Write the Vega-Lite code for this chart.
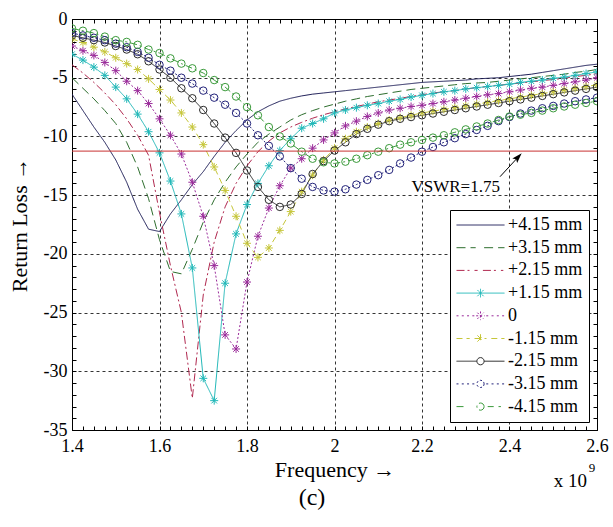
{
"$schema": "https://vega.github.io/schema/vega-lite/v6.json",
"width": 525, "height": 411,
"autosize": {"type": "none"},
"padding": {"left": 72, "top": 19, "right": 16, "bottom": 97},
"background": "white",
"config": {"view": {"stroke": "#000000", "strokeWidth": 1}, "font": "Liberation Serif"},
"data": {"values": [
{"f":1.4,"s":"+4.15 mm","v":-6.4},{"f":1.425,"s":"+4.15 mm","v":-7.8},{"f":1.45,"s":"+4.15 mm","v":-9.2},{"f":1.475,"s":"+4.15 mm","v":-10.5},{"f":1.5,"s":"+4.15 mm","v":-12.0},{"f":1.525,"s":"+4.15 mm","v":-13.9},{"f":1.55,"s":"+4.15 mm","v":-16.2},{"f":1.575,"s":"+4.15 mm","v":-17.9},{"f":1.6,"s":"+4.15 mm","v":-18.1},{"f":1.625,"s":"+4.15 mm","v":-16.6},{"f":1.65,"s":"+4.15 mm","v":-15.4},{"f":1.675,"s":"+4.15 mm","v":-14.1},{"f":1.7,"s":"+4.15 mm","v":-13.0},{"f":1.725,"s":"+4.15 mm","v":-11.7},{"f":1.75,"s":"+4.15 mm","v":-10.5},{"f":1.775,"s":"+4.15 mm","v":-9.5},{"f":1.8,"s":"+4.15 mm","v":-8.6},{"f":1.825,"s":"+4.15 mm","v":-7.9},{"f":1.85,"s":"+4.15 mm","v":-7.4},{"f":1.875,"s":"+4.15 mm","v":-7.0},{"f":1.9,"s":"+4.15 mm","v":-6.75},{"f":1.925,"s":"+4.15 mm","v":-6.55},{"f":1.95,"s":"+4.15 mm","v":-6.4},{"f":1.975,"s":"+4.15 mm","v":-6.3},{"f":2.0,"s":"+4.15 mm","v":-6.2},{"f":2.025,"s":"+4.15 mm","v":-6.1},{"f":2.05,"s":"+4.15 mm","v":-6.0},{"f":2.075,"s":"+4.15 mm","v":-5.9},{"f":2.1,"s":"+4.15 mm","v":-5.8},{"f":2.125,"s":"+4.15 mm","v":-5.7},{"f":2.15,"s":"+4.15 mm","v":-5.6},{"f":2.175,"s":"+4.15 mm","v":-5.5},{"f":2.2,"s":"+4.15 mm","v":-5.4},{"f":2.225,"s":"+4.15 mm","v":-5.35},{"f":2.25,"s":"+4.15 mm","v":-5.3},{"f":2.275,"s":"+4.15 mm","v":-5.25},{"f":2.3,"s":"+4.15 mm","v":-5.2},{"f":2.325,"s":"+4.15 mm","v":-5.1},{"f":2.35,"s":"+4.15 mm","v":-5.05},{"f":2.375,"s":"+4.15 mm","v":-5.0},{"f":2.4,"s":"+4.15 mm","v":-4.9},{"f":2.425,"s":"+4.15 mm","v":-4.8},{"f":2.45,"s":"+4.15 mm","v":-4.7},{"f":2.475,"s":"+4.15 mm","v":-4.55},{"f":2.5,"s":"+4.15 mm","v":-4.4},{"f":2.525,"s":"+4.15 mm","v":-4.25},{"f":2.55,"s":"+4.15 mm","v":-4.1},{"f":2.575,"s":"+4.15 mm","v":-3.95},{"f":2.6,"s":"+4.15 mm","v":-3.85},
{"f":1.4,"s":"+3.15 mm","v":-5.0},{"f":1.425,"s":"+3.15 mm","v":-5.9},{"f":1.45,"s":"+3.15 mm","v":-6.8},{"f":1.475,"s":"+3.15 mm","v":-7.8},{"f":1.5,"s":"+3.15 mm","v":-8.9},{"f":1.525,"s":"+3.15 mm","v":-10.5},{"f":1.55,"s":"+3.15 mm","v":-12.6},{"f":1.575,"s":"+3.15 mm","v":-15.3},{"f":1.6,"s":"+3.15 mm","v":-18.8},{"f":1.625,"s":"+3.15 mm","v":-21.5},{"f":1.65,"s":"+3.15 mm","v":-21.7},{"f":1.675,"s":"+3.15 mm","v":-19.6},{"f":1.7,"s":"+3.15 mm","v":-17.3},{"f":1.725,"s":"+3.15 mm","v":-15.4},{"f":1.75,"s":"+3.15 mm","v":-13.9},{"f":1.775,"s":"+3.15 mm","v":-12.6},{"f":1.8,"s":"+3.15 mm","v":-11.5},{"f":1.825,"s":"+3.15 mm","v":-10.5},{"f":1.85,"s":"+3.15 mm","v":-9.8},{"f":1.875,"s":"+3.15 mm","v":-9.2},{"f":1.9,"s":"+3.15 mm","v":-8.6},{"f":1.925,"s":"+3.15 mm","v":-8.15},{"f":1.95,"s":"+3.15 mm","v":-7.8},{"f":1.975,"s":"+3.15 mm","v":-7.5},{"f":2.0,"s":"+3.15 mm","v":-7.25},{"f":2.025,"s":"+3.15 mm","v":-7.0},{"f":2.05,"s":"+3.15 mm","v":-6.8},{"f":2.075,"s":"+3.15 mm","v":-6.6},{"f":2.1,"s":"+3.15 mm","v":-6.45},{"f":2.125,"s":"+3.15 mm","v":-6.3},{"f":2.15,"s":"+3.15 mm","v":-6.15},{"f":2.175,"s":"+3.15 mm","v":-6.0},{"f":2.2,"s":"+3.15 mm","v":-5.9},{"f":2.225,"s":"+3.15 mm","v":-5.8},{"f":2.25,"s":"+3.15 mm","v":-5.7},{"f":2.275,"s":"+3.15 mm","v":-5.6},{"f":2.3,"s":"+3.15 mm","v":-5.5},{"f":2.325,"s":"+3.15 mm","v":-5.45},{"f":2.35,"s":"+3.15 mm","v":-5.4},{"f":2.375,"s":"+3.15 mm","v":-5.3},{"f":2.4,"s":"+3.15 mm","v":-5.2},{"f":2.425,"s":"+3.15 mm","v":-5.1},{"f":2.45,"s":"+3.15 mm","v":-5.0},{"f":2.475,"s":"+3.15 mm","v":-4.9},{"f":2.5,"s":"+3.15 mm","v":-4.8},{"f":2.525,"s":"+3.15 mm","v":-4.7},{"f":2.55,"s":"+3.15 mm","v":-4.55},{"f":2.575,"s":"+3.15 mm","v":-4.45},{"f":2.6,"s":"+3.15 mm","v":-4.3},
{"f":1.4,"s":"+2.15 mm","v":-3.9},{"f":1.425,"s":"+2.15 mm","v":-4.6},{"f":1.45,"s":"+2.15 mm","v":-5.4},{"f":1.475,"s":"+2.15 mm","v":-6.3},{"f":1.5,"s":"+2.15 mm","v":-7.3},{"f":1.525,"s":"+2.15 mm","v":-8.5},{"f":1.55,"s":"+2.15 mm","v":-9.9},{"f":1.575,"s":"+2.15 mm","v":-11.6},{"f":1.6,"s":"+2.15 mm","v":-16.5},{"f":1.625,"s":"+2.15 mm","v":-21.0},{"f":1.65,"s":"+2.15 mm","v":-25.0},{"f":1.675,"s":"+2.15 mm","v":-32.3},{"f":1.7,"s":"+2.15 mm","v":-23.5},{"f":1.725,"s":"+2.15 mm","v":-19.0},{"f":1.75,"s":"+2.15 mm","v":-16.0},{"f":1.775,"s":"+2.15 mm","v":-14.0},{"f":1.8,"s":"+2.15 mm","v":-12.5},{"f":1.825,"s":"+2.15 mm","v":-11.3},{"f":1.85,"s":"+2.15 mm","v":-10.4},{"f":1.875,"s":"+2.15 mm","v":-9.7},{"f":1.9,"s":"+2.15 mm","v":-9.2},{"f":1.925,"s":"+2.15 mm","v":-8.8},{"f":1.95,"s":"+2.15 mm","v":-8.45},{"f":1.975,"s":"+2.15 mm","v":-8.15},{"f":2.0,"s":"+2.15 mm","v":-7.9},{"f":2.025,"s":"+2.15 mm","v":-7.65},{"f":2.05,"s":"+2.15 mm","v":-7.45},{"f":2.075,"s":"+2.15 mm","v":-7.25},{"f":2.1,"s":"+2.15 mm","v":-7.05},{"f":2.125,"s":"+2.15 mm","v":-6.9},{"f":2.15,"s":"+2.15 mm","v":-6.75},{"f":2.175,"s":"+2.15 mm","v":-6.6},{"f":2.2,"s":"+2.15 mm","v":-6.45},{"f":2.225,"s":"+2.15 mm","v":-6.3},{"f":2.25,"s":"+2.15 mm","v":-6.2},{"f":2.275,"s":"+2.15 mm","v":-6.1},{"f":2.3,"s":"+2.15 mm","v":-5.95},{"f":2.325,"s":"+2.15 mm","v":-5.85},{"f":2.35,"s":"+2.15 mm","v":-5.75},{"f":2.375,"s":"+2.15 mm","v":-5.65},{"f":2.4,"s":"+2.15 mm","v":-5.55},{"f":2.425,"s":"+2.15 mm","v":-5.45},{"f":2.45,"s":"+2.15 mm","v":-5.35},{"f":2.475,"s":"+2.15 mm","v":-5.25},{"f":2.5,"s":"+2.15 mm","v":-5.15},{"f":2.525,"s":"+2.15 mm","v":-5.05},{"f":2.55,"s":"+2.15 mm","v":-4.9},{"f":2.575,"s":"+2.15 mm","v":-4.8},{"f":2.6,"s":"+2.15 mm","v":-4.65},
{"f":1.4,"s":"+1.15 mm","v":-3.0},{"f":1.425,"s":"+1.15 mm","v":-3.5},{"f":1.45,"s":"+1.15 mm","v":-4.1},{"f":1.475,"s":"+1.15 mm","v":-4.8},{"f":1.5,"s":"+1.15 mm","v":-5.8},{"f":1.525,"s":"+1.15 mm","v":-6.8},{"f":1.55,"s":"+1.15 mm","v":-8.1},{"f":1.575,"s":"+1.15 mm","v":-9.6},{"f":1.6,"s":"+1.15 mm","v":-11.4},{"f":1.625,"s":"+1.15 mm","v":-13.8},{"f":1.65,"s":"+1.15 mm","v":-16.6},{"f":1.675,"s":"+1.15 mm","v":-21.2},{"f":1.7,"s":"+1.15 mm","v":-30.6},{"f":1.725,"s":"+1.15 mm","v":-32.5},{"f":1.75,"s":"+1.15 mm","v":-22.5},{"f":1.775,"s":"+1.15 mm","v":-18.3},{"f":1.8,"s":"+1.15 mm","v":-15.8},{"f":1.825,"s":"+1.15 mm","v":-14.0},{"f":1.85,"s":"+1.15 mm","v":-12.5},{"f":1.875,"s":"+1.15 mm","v":-11.2},{"f":1.9,"s":"+1.15 mm","v":-10.2},{"f":1.925,"s":"+1.15 mm","v":-9.3},{"f":1.95,"s":"+1.15 mm","v":-8.9},{"f":1.975,"s":"+1.15 mm","v":-8.5},{"f":2.0,"s":"+1.15 mm","v":-8.0},{"f":2.025,"s":"+1.15 mm","v":-7.75},{"f":2.05,"s":"+1.15 mm","v":-7.55},{"f":2.075,"s":"+1.15 mm","v":-7.35},{"f":2.1,"s":"+1.15 mm","v":-7.2},{"f":2.125,"s":"+1.15 mm","v":-7.0},{"f":2.15,"s":"+1.15 mm","v":-6.85},{"f":2.175,"s":"+1.15 mm","v":-6.65},{"f":2.2,"s":"+1.15 mm","v":-6.5},{"f":2.225,"s":"+1.15 mm","v":-6.35},{"f":2.25,"s":"+1.15 mm","v":-6.2},{"f":2.275,"s":"+1.15 mm","v":-6.1},{"f":2.3,"s":"+1.15 mm","v":-5.95},{"f":2.325,"s":"+1.15 mm","v":-5.85},{"f":2.35,"s":"+1.15 mm","v":-5.75},{"f":2.375,"s":"+1.15 mm","v":-5.65},{"f":2.4,"s":"+1.15 mm","v":-5.55},{"f":2.425,"s":"+1.15 mm","v":-5.4},{"f":2.45,"s":"+1.15 mm","v":-5.3},{"f":2.475,"s":"+1.15 mm","v":-5.2},{"f":2.5,"s":"+1.15 mm","v":-5.05},{"f":2.525,"s":"+1.15 mm","v":-4.95},{"f":2.55,"s":"+1.15 mm","v":-4.8},{"f":2.575,"s":"+1.15 mm","v":-4.65},{"f":2.6,"s":"+1.15 mm","v":-4.5},
{"f":1.4,"s":"0","v":-2.3},{"f":1.425,"s":"0","v":-2.7},{"f":1.45,"s":"0","v":-3.1},{"f":1.475,"s":"0","v":-3.7},{"f":1.5,"s":"0","v":-4.4},{"f":1.525,"s":"0","v":-5.3},{"f":1.55,"s":"0","v":-6.1},{"f":1.575,"s":"0","v":-7.2},{"f":1.6,"s":"0","v":-8.5},{"f":1.625,"s":"0","v":-9.9},{"f":1.65,"s":"0","v":-11.5},{"f":1.675,"s":"0","v":-13.9},{"f":1.7,"s":"0","v":-16.8},{"f":1.725,"s":"0","v":-21.0},{"f":1.75,"s":"0","v":-26.9},{"f":1.775,"s":"0","v":-28.1},{"f":1.8,"s":"0","v":-22.4},{"f":1.825,"s":"0","v":-18.5},{"f":1.85,"s":"0","v":-16.1},{"f":1.875,"s":"0","v":-14.2},{"f":1.9,"s":"0","v":-12.7},{"f":1.925,"s":"0","v":-11.9},{"f":1.95,"s":"0","v":-11.0},{"f":1.975,"s":"0","v":-10.3},{"f":2.0,"s":"0","v":-9.7},{"f":2.025,"s":"0","v":-9.1},{"f":2.05,"s":"0","v":-8.7},{"f":2.075,"s":"0","v":-8.3},{"f":2.1,"s":"0","v":-8.0},{"f":2.125,"s":"0","v":-7.75},{"f":2.15,"s":"0","v":-7.6},{"f":2.175,"s":"0","v":-7.45},{"f":2.2,"s":"0","v":-7.35},{"f":2.225,"s":"0","v":-7.2},{"f":2.25,"s":"0","v":-7.05},{"f":2.275,"s":"0","v":-6.9},{"f":2.3,"s":"0","v":-6.75},{"f":2.325,"s":"0","v":-6.6},{"f":2.35,"s":"0","v":-6.45},{"f":2.375,"s":"0","v":-6.35},{"f":2.4,"s":"0","v":-6.2},{"f":2.425,"s":"0","v":-6.05},{"f":2.45,"s":"0","v":-5.9},{"f":2.475,"s":"0","v":-5.8},{"f":2.5,"s":"0","v":-5.65},{"f":2.525,"s":"0","v":-5.5},{"f":2.55,"s":"0","v":-5.35},{"f":2.575,"s":"0","v":-5.2},{"f":2.6,"s":"0","v":-5.0},
{"f":1.4,"s":"-1.15 mm","v":-1.7},{"f":1.425,"s":"-1.15 mm","v":-2.0},{"f":1.45,"s":"-1.15 mm","v":-2.4},{"f":1.475,"s":"-1.15 mm","v":-2.8},{"f":1.5,"s":"-1.15 mm","v":-3.3},{"f":1.525,"s":"-1.15 mm","v":-3.8},{"f":1.55,"s":"-1.15 mm","v":-4.3},{"f":1.575,"s":"-1.15 mm","v":-5.1},{"f":1.6,"s":"-1.15 mm","v":-6.0},{"f":1.625,"s":"-1.15 mm","v":-6.9},{"f":1.65,"s":"-1.15 mm","v":-8.0},{"f":1.675,"s":"-1.15 mm","v":-9.2},{"f":1.7,"s":"-1.15 mm","v":-10.7},{"f":1.725,"s":"-1.15 mm","v":-12.6},{"f":1.75,"s":"-1.15 mm","v":-14.6},{"f":1.775,"s":"-1.15 mm","v":-16.8},{"f":1.8,"s":"-1.15 mm","v":-19.1},{"f":1.825,"s":"-1.15 mm","v":-20.3},{"f":1.85,"s":"-1.15 mm","v":-19.5},{"f":1.875,"s":"-1.15 mm","v":-18.0},{"f":1.9,"s":"-1.15 mm","v":-16.4},{"f":1.925,"s":"-1.15 mm","v":-14.7},{"f":1.95,"s":"-1.15 mm","v":-13.3},{"f":1.975,"s":"-1.15 mm","v":-12.0},{"f":2.0,"s":"-1.15 mm","v":-11.0},{"f":2.025,"s":"-1.15 mm","v":-10.2},{"f":2.05,"s":"-1.15 mm","v":-9.6},{"f":2.075,"s":"-1.15 mm","v":-9.2},{"f":2.1,"s":"-1.15 mm","v":-8.9},{"f":2.125,"s":"-1.15 mm","v":-8.6},{"f":2.15,"s":"-1.15 mm","v":-8.4},{"f":2.175,"s":"-1.15 mm","v":-8.2},{"f":2.2,"s":"-1.15 mm","v":-8.0},{"f":2.225,"s":"-1.15 mm","v":-7.85},{"f":2.25,"s":"-1.15 mm","v":-7.7},{"f":2.275,"s":"-1.15 mm","v":-7.55},{"f":2.3,"s":"-1.15 mm","v":-7.4},{"f":2.325,"s":"-1.15 mm","v":-7.25},{"f":2.35,"s":"-1.15 mm","v":-7.1},{"f":2.375,"s":"-1.15 mm","v":-6.95},{"f":2.4,"s":"-1.15 mm","v":-6.8},{"f":2.425,"s":"-1.15 mm","v":-6.65},{"f":2.45,"s":"-1.15 mm","v":-6.5},{"f":2.475,"s":"-1.15 mm","v":-6.35},{"f":2.5,"s":"-1.15 mm","v":-6.2},{"f":2.525,"s":"-1.15 mm","v":-6.05},{"f":2.55,"s":"-1.15 mm","v":-5.9},{"f":2.575,"s":"-1.15 mm","v":-5.75},{"f":2.6,"s":"-1.15 mm","v":-5.6},
{"f":1.4,"s":"-2.15 mm","v":-1.4},{"f":1.425,"s":"-2.15 mm","v":-1.6},{"f":1.45,"s":"-2.15 mm","v":-1.8},{"f":1.475,"s":"-2.15 mm","v":-2.0},{"f":1.5,"s":"-2.15 mm","v":-2.3},{"f":1.525,"s":"-2.15 mm","v":-2.6},{"f":1.55,"s":"-2.15 mm","v":-3.0},{"f":1.575,"s":"-2.15 mm","v":-3.6},{"f":1.6,"s":"-2.15 mm","v":-4.3},{"f":1.625,"s":"-2.15 mm","v":-5.0},{"f":1.65,"s":"-2.15 mm","v":-5.9},{"f":1.675,"s":"-2.15 mm","v":-6.75},{"f":1.7,"s":"-2.15 mm","v":-7.75},{"f":1.725,"s":"-2.15 mm","v":-8.9},{"f":1.75,"s":"-2.15 mm","v":-10.1},{"f":1.775,"s":"-2.15 mm","v":-11.4},{"f":1.8,"s":"-2.15 mm","v":-12.9},{"f":1.825,"s":"-2.15 mm","v":-14.3},{"f":1.85,"s":"-2.15 mm","v":-15.4},{"f":1.875,"s":"-2.15 mm","v":-16.0},{"f":1.9,"s":"-2.15 mm","v":-15.8},{"f":1.925,"s":"-2.15 mm","v":-14.9},{"f":1.95,"s":"-2.15 mm","v":-13.2},{"f":1.975,"s":"-2.15 mm","v":-12.1},{"f":2.0,"s":"-2.15 mm","v":-11.2},{"f":2.025,"s":"-2.15 mm","v":-10.5},{"f":2.05,"s":"-2.15 mm","v":-9.8},{"f":2.075,"s":"-2.15 mm","v":-9.35},{"f":2.1,"s":"-2.15 mm","v":-9.0},{"f":2.125,"s":"-2.15 mm","v":-8.7},{"f":2.15,"s":"-2.15 mm","v":-8.5},{"f":2.175,"s":"-2.15 mm","v":-8.35},{"f":2.2,"s":"-2.15 mm","v":-8.2},{"f":2.225,"s":"-2.15 mm","v":-8.05},{"f":2.25,"s":"-2.15 mm","v":-7.9},{"f":2.275,"s":"-2.15 mm","v":-7.75},{"f":2.3,"s":"-2.15 mm","v":-7.6},{"f":2.325,"s":"-2.15 mm","v":-7.45},{"f":2.35,"s":"-2.15 mm","v":-7.3},{"f":2.375,"s":"-2.15 mm","v":-7.15},{"f":2.4,"s":"-2.15 mm","v":-7.0},{"f":2.425,"s":"-2.15 mm","v":-6.85},{"f":2.45,"s":"-2.15 mm","v":-6.7},{"f":2.475,"s":"-2.15 mm","v":-6.55},{"f":2.5,"s":"-2.15 mm","v":-6.4},{"f":2.525,"s":"-2.15 mm","v":-6.25},{"f":2.55,"s":"-2.15 mm","v":-6.1},{"f":2.575,"s":"-2.15 mm","v":-5.95},{"f":2.6,"s":"-2.15 mm","v":-5.8},
{"f":1.4,"s":"-3.15 mm","v":-1.2},{"f":1.425,"s":"-3.15 mm","v":-1.4},{"f":1.45,"s":"-3.15 mm","v":-1.6},{"f":1.475,"s":"-3.15 mm","v":-1.8},{"f":1.5,"s":"-3.15 mm","v":-2.1},{"f":1.525,"s":"-3.15 mm","v":-2.4},{"f":1.55,"s":"-3.15 mm","v":-2.8},{"f":1.575,"s":"-3.15 mm","v":-3.3},{"f":1.6,"s":"-3.15 mm","v":-3.9},{"f":1.625,"s":"-3.15 mm","v":-4.4},{"f":1.65,"s":"-3.15 mm","v":-5.0},{"f":1.675,"s":"-3.15 mm","v":-5.5},{"f":1.7,"s":"-3.15 mm","v":-6.1},{"f":1.725,"s":"-3.15 mm","v":-6.7},{"f":1.75,"s":"-3.15 mm","v":-7.3},{"f":1.775,"s":"-3.15 mm","v":-8.0},{"f":1.8,"s":"-3.15 mm","v":-8.9},{"f":1.825,"s":"-3.15 mm","v":-9.9},{"f":1.85,"s":"-3.15 mm","v":-10.8},{"f":1.875,"s":"-3.15 mm","v":-11.7},{"f":1.9,"s":"-3.15 mm","v":-12.7},{"f":1.925,"s":"-3.15 mm","v":-13.6},{"f":1.95,"s":"-3.15 mm","v":-14.3},{"f":1.975,"s":"-3.15 mm","v":-14.6},{"f":2.0,"s":"-3.15 mm","v":-14.7},{"f":2.025,"s":"-3.15 mm","v":-14.5},{"f":2.05,"s":"-3.15 mm","v":-14.1},{"f":2.075,"s":"-3.15 mm","v":-13.7},{"f":2.1,"s":"-3.15 mm","v":-13.3},{"f":2.125,"s":"-3.15 mm","v":-12.85},{"f":2.15,"s":"-3.15 mm","v":-12.3},{"f":2.175,"s":"-3.15 mm","v":-11.8},{"f":2.2,"s":"-3.15 mm","v":-11.3},{"f":2.225,"s":"-3.15 mm","v":-10.9},{"f":2.25,"s":"-3.15 mm","v":-10.5},{"f":2.275,"s":"-3.15 mm","v":-10.15},{"f":2.3,"s":"-3.15 mm","v":-9.8},{"f":2.325,"s":"-3.15 mm","v":-9.45},{"f":2.35,"s":"-3.15 mm","v":-9.1},{"f":2.375,"s":"-3.15 mm","v":-8.7},{"f":2.4,"s":"-3.15 mm","v":-8.35},{"f":2.425,"s":"-3.15 mm","v":-8.05},{"f":2.45,"s":"-3.15 mm","v":-7.8},{"f":2.475,"s":"-3.15 mm","v":-7.6},{"f":2.5,"s":"-3.15 mm","v":-7.4},{"f":2.525,"s":"-3.15 mm","v":-7.2},{"f":2.55,"s":"-3.15 mm","v":-7.0},{"f":2.575,"s":"-3.15 mm","v":-6.85},{"f":2.6,"s":"-3.15 mm","v":-6.7},
{"f":1.4,"s":"-4.15 mm","v":-0.8},{"f":1.425,"s":"-4.15 mm","v":-1.0},{"f":1.45,"s":"-4.15 mm","v":-1.2},{"f":1.475,"s":"-4.15 mm","v":-1.5},{"f":1.5,"s":"-4.15 mm","v":-1.8},{"f":1.525,"s":"-4.15 mm","v":-1.95},{"f":1.55,"s":"-4.15 mm","v":-2.2},{"f":1.575,"s":"-4.15 mm","v":-2.6},{"f":1.6,"s":"-4.15 mm","v":-2.9},{"f":1.625,"s":"-4.15 mm","v":-3.35},{"f":1.65,"s":"-4.15 mm","v":-3.8},{"f":1.675,"s":"-4.15 mm","v":-4.2},{"f":1.7,"s":"-4.15 mm","v":-4.6},{"f":1.725,"s":"-4.15 mm","v":-5.2},{"f":1.75,"s":"-4.15 mm","v":-5.8},{"f":1.775,"s":"-4.15 mm","v":-6.6},{"f":1.8,"s":"-4.15 mm","v":-7.5},{"f":1.825,"s":"-4.15 mm","v":-8.2},{"f":1.85,"s":"-4.15 mm","v":-9.2},{"f":1.875,"s":"-4.15 mm","v":-10.0},{"f":1.9,"s":"-4.15 mm","v":-10.6},{"f":1.925,"s":"-4.15 mm","v":-11.3},{"f":1.95,"s":"-4.15 mm","v":-11.9},{"f":1.975,"s":"-4.15 mm","v":-12.2},{"f":2.0,"s":"-4.15 mm","v":-12.3},{"f":2.025,"s":"-4.15 mm","v":-12.15},{"f":2.05,"s":"-4.15 mm","v":-11.9},{"f":2.075,"s":"-4.15 mm","v":-11.6},{"f":2.1,"s":"-4.15 mm","v":-11.3},{"f":2.125,"s":"-4.15 mm","v":-11.0},{"f":2.15,"s":"-4.15 mm","v":-10.7},{"f":2.175,"s":"-4.15 mm","v":-10.5},{"f":2.2,"s":"-4.15 mm","v":-10.3},{"f":2.225,"s":"-4.15 mm","v":-10.1},{"f":2.25,"s":"-4.15 mm","v":-9.9},{"f":2.275,"s":"-4.15 mm","v":-9.65},{"f":2.3,"s":"-4.15 mm","v":-9.4},{"f":2.325,"s":"-4.15 mm","v":-9.15},{"f":2.35,"s":"-4.15 mm","v":-8.9},{"f":2.375,"s":"-4.15 mm","v":-8.6},{"f":2.4,"s":"-4.15 mm","v":-8.3},{"f":2.425,"s":"-4.15 mm","v":-8.15},{"f":2.45,"s":"-4.15 mm","v":-8.0},{"f":2.475,"s":"-4.15 mm","v":-7.8},{"f":2.5,"s":"-4.15 mm","v":-7.6},{"f":2.525,"s":"-4.15 mm","v":-7.45},{"f":2.55,"s":"-4.15 mm","v":-7.3},{"f":2.575,"s":"-4.15 mm","v":-7.15},{"f":2.6,"s":"-4.15 mm","v":-7.0}
]},
"layer": [
 {
  "layer": [
   {
    "mark": {"type": "line", "strokeWidth": 1, "clip": true},
    "encoding": {
     "x": {"field": "f", "type": "quantitative", "scale": {"domain": [1.4, 2.6], "nice": false, "zero": false},
      "axis": {"title": "Frequency →", "titleFont": "Liberation Serif", "titleFontSize": 22, "titleFontWeight": "normal", "titleColor": "black", "titlePadding": 4,
       "values": [1.4,1.425,1.45,1.475,1.5,1.525,1.55,1.575,1.6,1.625,1.65,1.675,1.7,1.725,1.75,1.775,1.8,1.825,1.85,1.875,1.9,1.925,1.95,1.975,2.0,2.025,2.05,2.075,2.1,2.125,2.15,2.175,2.2,2.225,2.25,2.275,2.3,2.325,2.35,2.375,2.4,2.425,2.45,2.475,2.5,2.525,2.55,2.575,2.6],
       "tickCount": 200,
       "labelExpr": "abs(datum.value*5 - round(datum.value*5)) < 0.001 ? toString(datum.value) : ''",
       "labelFont": "Liberation Serif", "labelFontSize": 18, "labelColor": "black", "labelPadding": 11, "labelFlush": false, "labelOverlap": false,
       "tickSize": -4, "tickColor": "black", "tickWidth": 1, "domain": false,
       "grid": true, "gridColor": "black", "gridDash": [3, 3], "gridWidth": 0.8,
       "gridOpacity": {"condition": {"test": "abs(datum.value*5 - round(datum.value*5)) < 0.001", "value": 1}, "value": 0}}},
     "y": {"field": "v", "type": "quantitative", "scale": {"domain": [-35, 0], "nice": false, "zero": false},
      "axis": {"title": "Return Loss →", "titleFont": "Liberation Serif", "titleFontSize": 22, "titleFontWeight": "normal", "titleColor": "black", "titlePadding": 12,
       "values": [-35,-34,-33,-32,-31,-30,-29,-28,-27,-26,-25,-24,-23,-22,-21,-20,-19,-18,-17,-16,-15,-14,-13,-12,-11,-10,-9,-8,-7,-6,-5,-4,-3,-2,-1,0],
       "tickCount": 200,
       "labelExpr": "abs(datum.value/5 - round(datum.value/5)) < 0.001 ? (datum.value < 0 ? '-' + toString(abs(datum.value)) : '0') : ''",
       "labelFont": "Liberation Serif", "labelFontSize": 18, "labelColor": "black", "labelPadding": 9, "labelFlush": false, "labelOverlap": false,
       "tickSize": -4, "tickColor": "black", "tickWidth": 1, "domain": false,
       "grid": true, "gridColor": "black", "gridDash": [3, 3], "gridWidth": 0.8,
       "gridOpacity": {"condition": {"test": "abs(datum.value/5 - round(datum.value/5)) < 0.001", "value": 1}, "value": 0}}},
     "color": {"field": "s", "type": "nominal",
      "scale": {"domain": ["+4.15 mm","+3.15 mm","+2.15 mm","+1.15 mm","0","-1.15 mm","-2.15 mm","-3.15 mm","-4.15 mm"],
                "range": ["#1b1b55","#2e6e2e","#b0284f","#20b8b8","#9a2a9a","#c6c63a","#2b2b2b","#23237a","#3a9a3a"]}},
     "strokeDash": {"field": "s", "type": "nominal",
      "scale": {"domain": ["+4.15 mm","+3.15 mm","+2.15 mm","+1.15 mm","0","-1.15 mm","-2.15 mm","-3.15 mm","-4.15 mm"],
                "range": [[1,0],[9,5],[8,3,2,3],[1,0],[2,2],[6,4],[1,0],[2,2],[7,3,2,3]]}, "legend": null}
    }
   },
   {
    "transform": [{"filter": {"field": "s", "oneOf": ["+1.15 mm", "0", "-1.15 mm"]}}],
    "mark": {"type": "point", "shape": "M-1,0H1M0,-1V1M-0.7,-0.7L0.7,0.7M-0.7,0.7L0.7,-0.7", "size": 64, "filled": false, "strokeWidth": 1, "opacity": 1, "clip": true},
    "encoding": {
     "x": {"field": "f", "type": "quantitative"},
     "y": {"field": "v", "type": "quantitative"},
     "color": {"field": "s", "type": "nominal"}
    }
   },
   {
    "transform": [{"filter": {"field": "s", "oneOf": ["-2.15 mm", "-3.15 mm", "-4.15 mm"]}}],
    "mark": {"type": "point", "shape": "circle", "size": 56, "filled": false, "strokeWidth": 1, "opacity": 1, "clip": true},
    "encoding": {
     "x": {"field": "f", "type": "quantitative"},
     "y": {"field": "v", "type": "quantitative"},
     "color": {"field": "s", "type": "nominal"}
    }
   },
   {
    "transform": [{"filter": "datum.f > 5"}],
    "mark": {"type": "point", "filled": false, "strokeWidth": 1},
    "encoding": {
     "x": {"field": "f", "type": "quantitative"},
     "y": {"field": "v", "type": "quantitative"},
     "color": {"field": "s", "type": "nominal",
      "legend": {"title": null, "orient": "bottom-right", "offset": 8, "fillColor": "white", "strokeColor": "black", "padding": 6, "symbolSize": 2304, "clipHeight": 18, "rowPadding": 4.7, "labelFont": "Liberation Serif", "labelFontSize": 18, "labelColor": "black", "labelOffset": 3, "symbolStrokeWidth": 1, "symbolOpacity": 1, "symbolFillColor": "transparent", "labelLimit": 200}},
     "shape": {"field": "s", "type": "nominal",
      "scale": {"domain": ["+4.15 mm","+3.15 mm","+2.15 mm","+1.15 mm","0","-1.15 mm","-2.15 mm","-3.15 mm","-4.15 mm"],
       "range": [
        "M-1,0H1",
        "M-1,0H-0.2M0.15,0H1",
        "M-1,0H-0.45M-0.25,0H-0.12M0.1,0H0.65M0.85,0H0.95",
        "M-1,0H1M0,-0.18V0.18M-0.13,-0.13L0.13,0.13M-0.13,0.13L0.13,-0.13",
        "M-1,0H-0.9M-0.78,0H-0.68M-0.56,0H-0.46M-0.34,0H-0.24M0.24,0H0.34M0.46,0H0.56M0.68,0H0.78M0.9,0H1M-0.18,0H0.18M0,-0.18V0.18M-0.13,-0.13L0.13,0.13M-0.13,0.13L0.13,-0.13",
        "M-1,0H-0.45M-0.25,0H0.25M0.45,0H1M0,-0.18V0.18M-0.13,-0.13L0.13,0.13M-0.13,0.13L0.13,-0.13",
        "M-1,0H-0.15M0.15,0H1M0.15,0A0.15,0.15 0 1 1 -0.15,0A0.15,0.15 0 1 1 0.15,0",
        "M-1,0H-0.9M-0.78,0H-0.68M-0.56,0H-0.46M-0.34,0H-0.24M0.24,0H0.34M0.46,0H0.56M0.68,0H0.78M0.9,0H1M0.15,0A0.15,0.15 0 1 1 -0.15,0A0.15,0.15 0 1 1 0.15,0",
        "M-1,0H-0.6M0.3,0H0.55M0.75,0H0.85M0.15,0A0.15,0.15 0 1 1 -0.15,0A0.15,0.15 0 1 1 0.15,0"
       ]},
      "legend": {"title": null, "orient": "bottom-right", "offset": 8, "fillColor": "white", "strokeColor": "black", "padding": 6, "symbolSize": 2304, "clipHeight": 18, "rowPadding": 4.7, "labelFont": "Liberation Serif", "labelFontSize": 18, "labelColor": "black", "labelOffset": 3, "symbolStrokeWidth": 1, "symbolOpacity": 1, "symbolFillColor": "transparent", "labelLimit": 200}}
    }
   },
   {
    "data": {"values": [{}]},
    "mark": {"type": "rule", "color": "#c83232", "strokeWidth": 1},
    "encoding": {"y": {"datum": -11.25, "type": "quantitative"}}
   },
   {
    "data": {"values": [{}]},
    "mark": {"type": "rule", "color": "black", "strokeWidth": 1},
    "encoding": {
     "x": {"datum": 2.3783, "type": "quantitative"},
     "y": {"datum": -13.43, "type": "quantitative"},
     "x2": {"datum": 2.4185},
     "y2": {"datum": -11.81}
    }
   },
   {
    "data": {"values": [{}]},
    "mark": {"type": "point", "shape": "M0,-1L0.55,0.7L0,0.35L-0.55,0.7Z", "size": 144, "filled": true, "color": "black", "angle": 43, "opacity": 1},
    "encoding": {
     "x": {"datum": 2.4185, "type": "quantitative"},
     "y": {"datum": -11.81, "type": "quantitative"}
    }
   },
   {
    "data": {"values": [{}]},
    "mark": {"type": "text", "font": "Liberation Serif", "fontSize": 17, "color": "black", "align": "center", "baseline": "middle"},
    "encoding": {
     "x": {"datum": 2.277, "type": "quantitative"},
     "y": {"datum": -14.3, "type": "quantitative"},
     "text": {"value": "VSWR=1.75"}
    }
   },
   {
    "data": {"values": [{}]},
    "mark": {"type": "text", "font": "Liberation Serif", "fontSize": 19, "color": "black", "align": "right", "baseline": "middle", "dx": -10},
    "encoding": {
     "x": {"datum": 2.6, "type": "quantitative"},
     "y": {"datum": -39.35, "type": "quantitative"},
     "text": {"value": "x 10"}
    }
   },
   {
    "data": {"values": [{}]},
    "mark": {"type": "text", "font": "Liberation Serif", "fontSize": 13, "color": "black", "align": "center", "baseline": "middle", "dx": -5},
    "encoding": {
     "x": {"datum": 2.6, "type": "quantitative"},
     "y": {"datum": -38.2, "type": "quantitative"},
     "text": {"value": "9"}
    }
   },
   {
    "data": {"values": [{}]},
    "mark": {"type": "text", "font": "Liberation Serif", "fontSize": 24, "color": "black", "align": "center", "baseline": "middle"},
    "encoding": {
     "x": {"datum": 1.9486, "type": "quantitative"},
     "y": {"datum": -40.8, "type": "quantitative"},
     "text": {"value": "(c)"}
    }
   }
  ]
 },
 {
  "transform": [{"filter": "datum.f == 1.4 && datum.s == '0'"}],
  "mark": {"type": "point", "opacity": 0},
  "encoding": {
   "x": {"field": "f", "type": "quantitative", "scale": {"domain": [1.4, 2.6], "nice": false, "zero": false},
    "axis": {"orient": "top", "title": null, "labels": false, "ticks": true, "tickSize": -4, "tickColor": "black", "tickWidth": 1, "domain": false, "grid": false, "tickCount": 200,
     "values": [1.4,1.425,1.45,1.475,1.5,1.525,1.55,1.575,1.6,1.625,1.65,1.675,1.7,1.725,1.75,1.775,1.8,1.825,1.85,1.875,1.9,1.925,1.95,1.975,2.0,2.025,2.05,2.075,2.1,2.125,2.15,2.175,2.2,2.225,2.25,2.275,2.3,2.325,2.35,2.375,2.4,2.425,2.45,2.475,2.5,2.525,2.55,2.575,2.6]}},
   "y": {"field": "v", "type": "quantitative", "scale": {"domain": [-35, 0], "nice": false, "zero": false},
    "axis": {"orient": "right", "title": null, "labels": false, "ticks": true, "tickSize": -4, "tickColor": "black", "tickWidth": 1, "domain": false, "grid": false, "tickCount": 200,
     "values": [-35,-34,-33,-32,-31,-30,-29,-28,-27,-26,-25,-24,-23,-22,-21,-20,-19,-18,-17,-16,-15,-14,-13,-12,-11,-10,-9,-8,-7,-6,-5,-4,-3,-2,-1,0]}}
  }
 }
],
"resolve": {"scale": {"x": "independent", "y": "independent"}, "axis": {"x": "independent", "y": "independent"}}
}
